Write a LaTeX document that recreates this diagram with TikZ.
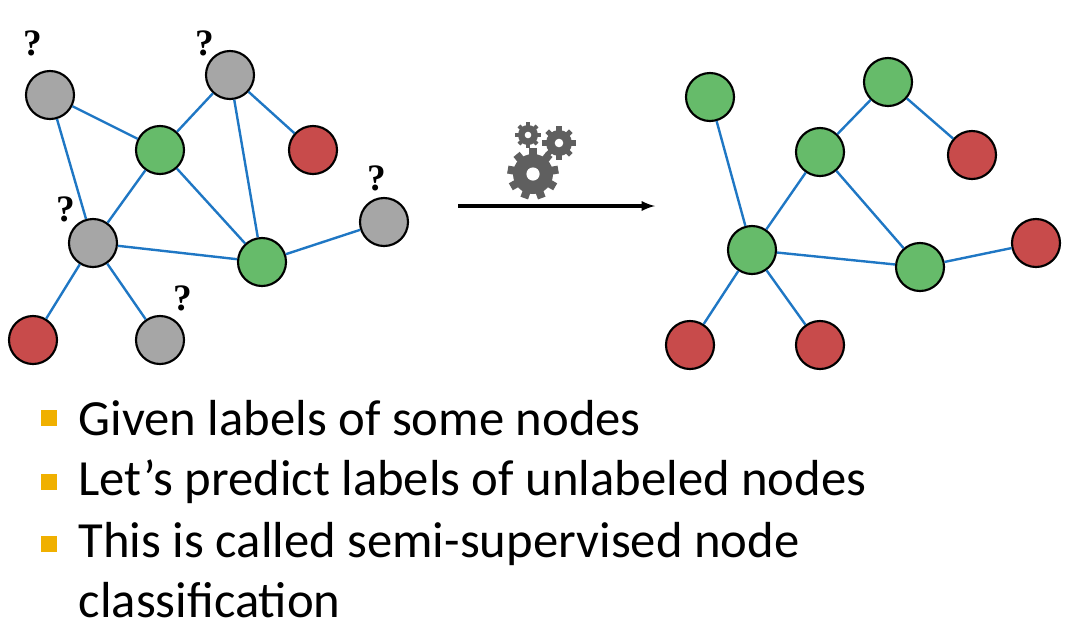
\documentclass[tikz,border=0pt]{standalone}
\usepackage{fontspec}
\setmainfont{Carlito}
\definecolor{gfill}{RGB}{102,187,106}
\definecolor{rfill}{RGB}{200,75,75}
\definecolor{qfill}{RGB}{166,166,166}
\definecolor{edgec}{RGB}{31,119,196}
\definecolor{bul}{RGB}{240,176,0}
\definecolor{gearc}{RGB}{95,95,95}
\begin{document}
\begin{tikzpicture}[x=0.75pt,y=-0.75pt,
 n/.style={circle,draw=black,line width=1.6pt,minimum size=36pt,inner sep=0},
 gn/.style={n,fill=gfill},
 rn/.style={n,fill=rfill},
 qn/.style={n,fill=qfill},
 e/.style={draw=edgec,line width=1.8pt},
 q/.style={font=\fontspec{Liberation Serif}\bfseries\fontsize{28}{28}\selectfont},
 bt/.style={anchor=west,font=\fontsize{38}{44}\selectfont,align=left}]
\useasboundingbox (0,0) rectangle (1068,626);
\node[qn] (q1) at (50,95) {};
\node[qn] (q2) at (230,75) {};
\node[gn] (g1) at (160,150) {};
\node[rn] (r1) at (313,150) {};
\node[qn] (q3) at (384,222) {};
\node[qn] (q4) at (93,243) {};
\node[gn] (g2) at (262,262) {};
\node[rn] (r2) at (33,340) {};
\node[qn] (q5) at (160,340) {};
\path[e] (q1)--(g1) (q1)--(q4) (g1)--(q2) (q2)--(r1) (q2)--(g2) (g1)--(q4) (g1)--(g2) (q4)--(g2) (g2)--(q3) (q4)--(r2) (q4)--(q5);
\node[q] (m1) at (33,43) {?};
\node[q] (m2) at (205,43) {?};
\node[q] (m3) at (377,178) {?};
\node[q] (m4) at (66,209) {?};
\node[q] (m5) at (183,298) {?};
\node[gn] (a) at (710,97) {};
\node[gn] (b) at (888,82) {};
\node[gn] (c) at (820,152) {};
\node[rn] (d) at (972,155) {};
\node[gn] (ee) at (752,250) {};
\node[gn] (f) at (920,267) {};
\node[rn] (g) at (1036,243) {};
\node[rn] (h) at (690,345) {};
\node[rn] (i) at (820,345) {};
\path[e] (a)--(ee) (c)--(b) (b)--(d) (c)--(ee) (c)--(f) (ee)--(f) (f)--(g) (ee)--(h) (ee)--(i);
\coordinate (s) at (458,206); \coordinate (t) at (655,206);
\draw[line width=2.4pt,-latex] (s)--(t);
\foreach \cx/\cy/\r/\k in {528/135/10/8, 559/143/13/8, 533/174/20/9}{
  \fill[gearc] (\cx,\cy) circle (\r);
  \foreach \j in {1,...,\k}{
    \fill[gearc,rotate around={360/\k*\j:(\cx,\cy)}] (\cx-0.2*\r,\cy) rectangle (\cx+0.2*\r,\cy-1.28*\r);}
  \fill[white] (\cx,\cy) circle (0.33*\r);
}
\foreach \y/\t in {418/Given labels of some nodes,482/Let’s predict labels of unlabeled nodes,544/This is called semi-supervised node}{
  \fill[bul] (41,\y-8) rectangle (57,\y+8);
  \node[bt] at (74,\y) {\t};}
\node[bt] (l4) at (74,600) {classification};
\end{tikzpicture}
\end{document}
